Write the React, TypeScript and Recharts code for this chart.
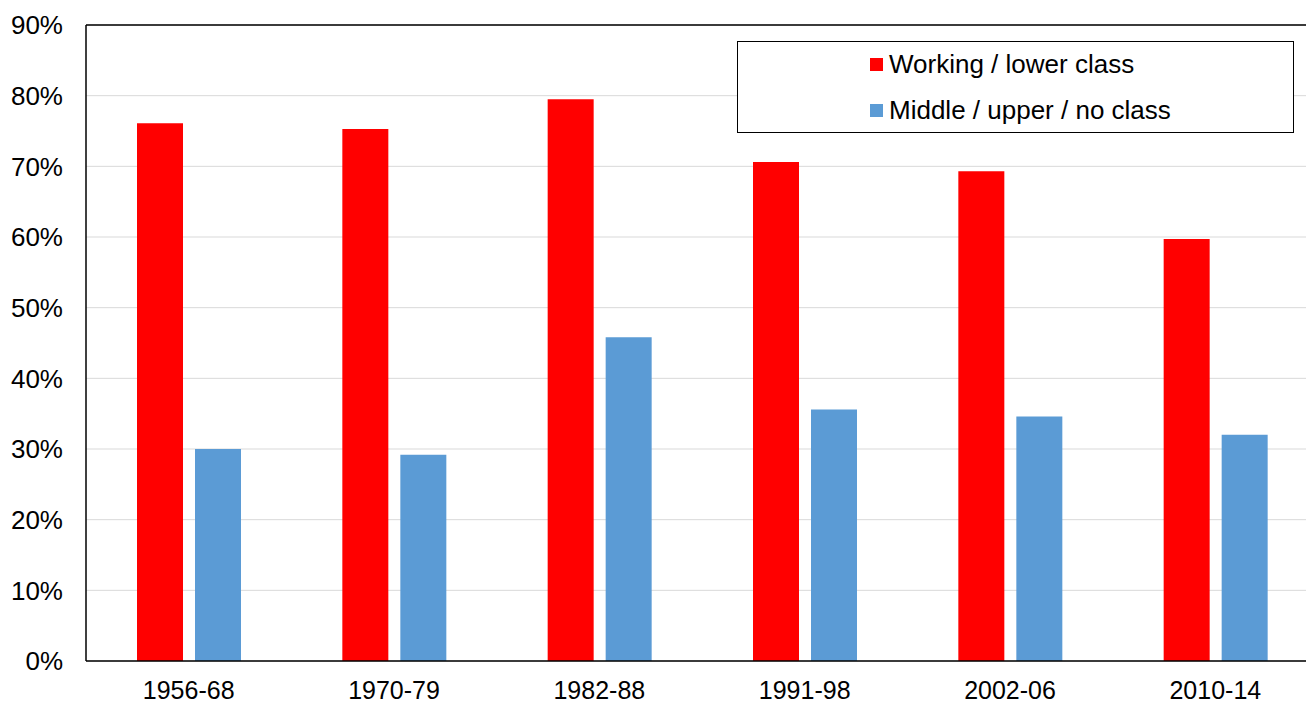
import React from "react";
import { BarChart, Bar, XAxis, YAxis, CartesianGrid, ReferenceLine } from "recharts";

const categories = ["1956-68", "1970-79", "1982-88", "1991-98", "2002-06", "2010-14"];
const working = [76.1, 75.3, 79.5, 70.6, 69.3, 59.7];
const middle = [30.0, 29.2, 45.8, 35.6, 34.6, 32.0];
const yTicks = [0, 10, 20, 30, 40, 50, 60, 70, 80, 90];
const seriesNames = ["Working / lower class", "Middle / upper / no class"];
const colors = ["#ff0000", "#5b9bd5"];

const data = categories.map((c, i) => ({ name: c, working: working[i], middle: middle[i] }));

const FONT = "'Liberation Sans', Arial, sans-serif";

const LegendBox = () => (
  <div
    style={{
      position: "absolute",
      left: 737,
      top: 41,
      width: 557,
      height: 92,
      border: "1.5px solid #000",
      boxSizing: "border-box",
      background: "#fff",
      fontFamily: FONT,
      fontSize: 26,
      color: "#000",
    }}
  >
    {seriesNames.map((n, i) => (
      <div
        key={n}
        style={{
          position: "absolute",
          left: 132,
          top: i === 0 ? 7 : 53,
          height: 30,
          display: "flex",
          alignItems: "center",
          whiteSpace: "nowrap",
        }}
      >
        <span style={{ display: "inline-block", width: 13, height: 13, background: colors[i], marginRight: 6 }} />
        <span>{n}</span>
      </div>
    ))}
  </div>
);

export default function App() {
  return (
    <div style={{ width: 1306, height: 704, overflow: "hidden", position: "relative", background: "#fff" }}>
      <style>{`body{margin:0}`}</style>
      <BarChart
        width={1330}
        height={704}
        data={data}
        margin={{ top: 25, right: 12, left: 0, bottom: 0 }}
        barSize={46}
        barGap={12}
      >
        <CartesianGrid vertical={false} stroke="#d9d9d9" strokeWidth={1} />
        <XAxis
          dataKey="name"
          height={43}
          tickLine={false}
          tickSize={14}
          tickMargin={6}
          stroke="#000"
          strokeWidth={1.5}
          tick={{ fill: "#000", fontSize: 25, fontFamily: FONT }}
        />
        <YAxis
          width={86}
          domain={[0, 90]}
          ticks={yTicks}
          tickFormatter={(v: number) => `${v}%`}
          tickLine={false}
          tickSize={19}
          tickMargin={4}
          stroke="#000"
          strokeWidth={1.5}
          tick={{ fill: "#000", fontSize: 26, fontFamily: FONT }}
          interval={0}
        />
        <ReferenceLine y={90} stroke="#000" strokeWidth={1.5} />
        <Bar dataKey="working" name={seriesNames[0]} fill={colors[0]} isAnimationActive={false} />
        <Bar dataKey="middle" name={seriesNames[1]} fill={colors[1]} isAnimationActive={false} />
      </BarChart>
      <LegendBox />
    </div>
  );
}
